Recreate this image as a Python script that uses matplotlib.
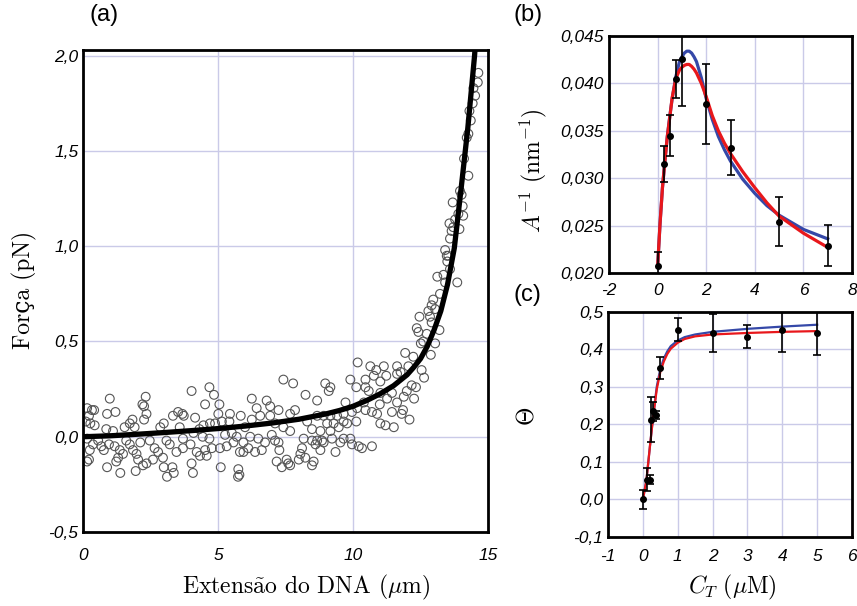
import matplotlib
matplotlib.use('Agg')
import matplotlib.pyplot as plt
from matplotlib.ticker import FuncFormatter

# (a) force vs extension, measured points
ext_um = [
    0.99, 2.32, 2.20, 2.26, 1.20, 0.89, 0.33, 0.15, 0.41, 0.22, 0.10, 0.27, 0.43, 1.83, 1.73,
    2.26, 2.35, 3.33, 3.52, 3.68, 3.73, 2.99, 2.86, 3.58, 1.54, 1.91, 0.86, 1.11, 0.15, 0.56,
    0.37, 0.68, 0.77, 0.96, 1.17, 1.36, 1.48, 1.30, 1.23, 1.98, 2.04, 1.85, 2.12, 2.47, 2.65,
    2.78, 2.96, 2.59, 2.35, 2.22, 2.99, 3.31, 3.36, 1.95, 1.38, 0.89, 0.22, 3.21, 3.46, 3.70,
    3.98, 3.70, 3.09, 1.60, 1.73, 0.25, 3.11, 4.07, 5.74, 0.15,
    4.68, 4.02, 4.85, 4.52, 5.05, 4.15, 5.01, 5.44, 5.84, 6.25, 6.43, 6.80, 6.93, 7.24, 7.67,
    7.85, 6.56, 6.93, 6.25, 5.42, 5.14, 4.89, 4.70, 4.46, 4.31, 6.00, 7.11, 7.42, 7.67, 4.09,
    4.43, 4.68, 5.26, 5.51, 5.69, 6.19, 6.49, 6.99, 7.11, 6.74, 5.94, 5.57, 5.32, 5.07, 4.77,
    4.52, 4.21, 4.33, 4.58, 5.81, 5.94, 6.12, 6.37, 6.62, 7.24, 7.27, 7.54, 7.60, 7.17, 7.36,
    7.67, 5.10, 5.75, 5.79, 4.02, 7.42, 7.78,
    10.17, 10.64, 10.86, 11.14, 11.63, 10.77, 11.23, 11.63, 10.46, 11.01, 9.90, 10.12, 10.46,
    10.58, 11.01, 8.97, 9.16, 9.10, 8.24, 8.67, 9.72, 10.40, 10.99, 11.26, 11.63, 11.88, 11.44,
    10.15, 10.46, 10.70, 10.89, 11.44, 11.85, 9.96, 9.65, 9.41, 9.16, 8.91, 8.67, 8.30, 9.04,
    9.28, 9.65, 9.78, 10.12, 11.01, 11.20, 11.51, 8.48, 8.79, 9.16, 9.47, 8.48, 8.67, 8.85,
    8.17, 9.22, 9.65, 9.90, 8.61, 8.79, 8.11, 8.05, 8.23, 8.54, 8.48, 9.35, 9.96, 10.21, 10.33,
    10.70, 8.91, 9.53, 7.99,
    13.12, 13.35, 13.41, 13.59, 13.86, 13.49, 13.53, 12.97, 12.91, 13.22, 12.79, 12.46, 12.85,
    13.04, 13.20, 12.36, 12.42, 12.73, 12.91, 12.51, 12.60, 13.04, 12.88, 11.93, 12.23, 12.05,
    12.54, 12.63, 11.76, 12.17, 12.33, 11.99, 12.26, 11.80, 12.09,
    14.64, 14.62, 14.46, 14.52, 14.43, 14.31, 14.36, 14.27, 14.21, 14.11, 14.27, 13.96, 14.02,
    13.69, 14.06, 13.90, 13.78, 14.08, 13.57, 13.71, 13.65, 13.94, 13.59, 13.41, 13.47,
]
force_pn = [
    0.20, 0.21, 0.17, 0.16, 0.13, 0.12, 0.14, 0.15, 0.14, 0.11, 0.08, 0.07, 0.06, 0.09, 0.07,
    0.09, 0.12, 0.11, 0.13, 0.12, 0.11, 0.07, 0.05, 0.05, 0.05, 0.05, 0.04, 0.03, -0.01, -0.02,
    -0.04, -0.05, -0.07, -0.04, -0.05, -0.07, -0.09, -0.11, -0.13, -0.09, -0.12, -0.07, -0.03, -0.02, -0.06,
    -0.08, -0.11, -0.12, -0.14, -0.15, -0.16, -0.16, -0.19, -0.18, -0.19, -0.16, -0.12, -0.04, -0.08, -0.06,
    -0.04, -0.01, -0.02, -0.02, -0.04, -0.07, -0.21, -0.19, -0.21, -0.13,
    0.26, 0.24, 0.22, 0.17, 0.17, 0.10, 0.12, 0.12, 0.11, 0.20, 0.15, 0.19, 0.16, 0.14, 0.12,
    0.14, 0.11, 0.11, 0.09, 0.08, 0.08, 0.07, 0.07, 0.06, 0.04, 0.05, 0.07, 0.05, 0.03, 0.02,
    0.00, -0.01, 0.01, 0.02, 0.00, 0.00, -0.01, 0.01, -0.02, -0.03, -0.03, -0.03, -0.05, -0.06, -0.06,
    -0.07, -0.08, -0.10, -0.10, -0.08, -0.08, -0.06, -0.08, -0.07, -0.03, -0.07, -0.12, -0.14, -0.13, -0.16,
    -0.15, -0.16, -0.17, -0.20, -0.14, 0.30, 0.28,
    0.39, 0.37, 0.35, 0.37, 0.37, 0.32, 0.32, 0.33, 0.30, 0.29, 0.30, 0.26, 0.26,
    0.24, 0.23, 0.28, 0.26, 0.24, 0.22, 0.19, 0.18, 0.18, 0.17, 0.20, 0.18, 0.21, 0.23,
    0.15, 0.14, 0.13, 0.12, 0.13, 0.14, 0.13, 0.12, 0.11, 0.11, 0.11, 0.11, 0.08, 0.07,
    0.07, 0.08, 0.07, 0.08, 0.07, 0.06, 0.05, 0.04, 0.03, 0.03, 0.05, -0.02, -0.02, -0.02,
    -0.01, -0.01, -0.01, -0.01, -0.04, -0.07, -0.06, -0.09, -0.11, -0.13, -0.15, -0.08, -0.04, -0.05, -0.06,
    -0.05, -0.03, -0.03, -0.12,
    0.84, 0.85, 0.81, 0.88, 0.81, 0.92, 0.95, 0.72, 0.69, 0.75, 0.66, 0.63, 0.63,
    0.67, 0.56, 0.57, 0.55, 0.54, 0.60, 0.49, 0.50, 0.49, 0.43, 0.44, 0.42, 0.37,
    0.35, 0.31, 0.34, 0.27, 0.26, 0.24, 0.20, 0.12, 0.09,
    1.91, 1.86, 1.83, 1.79, 1.75, 1.71, 1.66, 1.59, 1.57, 1.46, 1.37, 1.29, 1.27,
    1.23, 1.21, 1.17, 1.14, 1.16, 1.12, 1.10, 1.08, 1.09, 1.04, 0.98, 0.95,
]
fit_ext = [0, 1, 2, 3, 4, 5, 6, 7, 8, 9, 9.5, 10, 10.5, 11, 11.5, 12, 12.25, 12.5,
           12.75, 13.0, 13.25, 13.5, 13.75, 14.0, 14.25, 14.5, 14.6]
fit_force = [0.0, 0.005, 0.013, 0.022, 0.032, 0.043, 0.056, 0.072, 0.092, 0.12, 0.138,
             0.16, 0.19, 0.225, 0.268, 0.325, 0.365, 0.41, 0.475, 0.56, 0.66, 0.80, 0.99,
             1.30, 1.62, 2.0, 2.2]

# (b) inverse persistence length vs concentration
ct_b = [0, 0.25, 0.5, 0.75, 1.0, 2.0, 3.0, 5.0, 7.0]
inv_a = [0.0207, 0.0315, 0.0345, 0.0405, 0.0426, 0.0378, 0.0332, 0.0254, 0.0229]
inv_a_err = [0.0015, 0.0019, 0.0022, 0.0020, 0.0050, 0.0042, 0.0029, 0.0026, 0.0022]
curve_b_x = [0, 0.1, 0.2, 0.3, 0.4, 0.5, 0.6, 0.75, 0.9, 1.0, 1.1, 1.2, 1.3, 1.4, 1.5,
             1.6, 1.8, 2.0, 2.25, 2.5, 2.75, 3.0, 3.5, 4.0, 4.5, 5.0, 6.0, 7.0]
curve_b_blue = [0.0206, 0.0252, 0.0290, 0.0318, 0.0344, 0.0365, 0.0384, 0.0407, 0.0423,
                0.0428, 0.0432, 0.0434, 0.0434, 0.0432, 0.0428, 0.0423, 0.0406, 0.0384,
                0.0362, 0.0344, 0.0330, 0.0318, 0.0299, 0.0284, 0.0271, 0.0261, 0.0246,
                0.0236]
curve_b_red = [0.0206, 0.0252, 0.0290, 0.0318, 0.0344, 0.0364, 0.0385, 0.0405, 0.0414,
               0.0417, 0.0419, 0.0420, 0.0420, 0.0418, 0.0415, 0.0411, 0.0400, 0.0386,
               0.0366, 0.0350, 0.0337, 0.0326, 0.0307, 0.0290, 0.0274, 0.0260, 0.0242,
               0.0227]

# (c) fractional coverage vs concentration
ct_c = [0, 0.13, 0.19, 0.22, 0.28, 0.38, 0.48, 1.0, 2.0, 3.0, 4.0, 5.0]
theta = [0.0, 0.053, 0.053, 0.213, 0.235, 0.225, 0.351, 0.453, 0.444, 0.434, 0.453, 0.444]
theta_err = [0.025, 0.03, 0.012, 0.06, 0.025, 0.011, 0.03, 0.03, 0.05, 0.03, 0.06, 0.06]
curve_c_x = [0, 0.1, 0.2, 0.3, 0.4, 0.5, 0.6, 0.7, 0.8, 1.0, 1.2, 1.5, 2.0, 3.0, 4.0, 5.0]
curve_c_blue = [0.0, 0.05, 0.14, 0.227, 0.302, 0.348, 0.376, 0.395, 0.409, 0.424, 0.433,
                0.440, 0.447, 0.455, 0.461, 0.466]
curve_c_red = [0.0, 0.05, 0.14, 0.225, 0.295, 0.340, 0.368, 0.388, 0.402, 0.418, 0.428,
               0.435, 0.440, 0.444, 0.447, 0.449]

BLUE = '#3548a8'
RED = '#e8171b'
GRID = '#cacae8'
SERIF = ['cmr10', 'DejaVu Serif']


def comma_fmt(decimals):
    return FuncFormatter(lambda v, _: f'{v:.{decimals}f}'.replace('.', ','))


def style_axes(ax, xpad, ypad):
    for s in ax.spines.values():
        s.set_linewidth(2)
    ax.grid(True, color=GRID, lw=1)
    ax.set_axisbelow(True)
    ax.tick_params(length=0, labelsize=12.5)
    ax.tick_params(axis='x', pad=xpad)
    ax.tick_params(axis='y', pad=ypad)


def main():
    plt.rcParams['font.family'] = 'Liberation Sans'
    plt.rcParams['font.style'] = 'italic'
    plt.rcParams['mathtext.fontset'] = 'cm'
    plt.rcParams['axes.unicode_minus'] = False

    fig = plt.figure(figsize=(8.57, 6.06), dpi=100)

    # (a)
    ax = fig.add_axes([0.0969, 0.1221, 0.4726, 0.7954])
    ax.scatter(ext_um, force_pn, s=40, facecolors='none', edgecolors='#555555',
               linewidths=0.8, zorder=2)
    ax.plot(fit_ext, fit_force, color='k', lw=3.8, zorder=3)
    ax.set_xlim(0, 15)
    ax.set_ylim(-0.5, 2.03)
    ax.set_xticks([0, 5, 10, 15])
    ax.set_yticks([-0.5, 0, 0.5, 1.0, 1.5, 2.0])
    ax.yaxis.set_major_formatter(comma_fmt(1))
    style_axes(ax, 11.5, 3.5)

    # (b)
    axb = fig.add_axes([0.7106, 0.5495, 0.2836, 0.3911])
    axb.plot(curve_b_x, curve_b_blue, color=BLUE, lw=2.3, zorder=3)
    axb.plot(curve_b_x, curve_b_red, color=RED, lw=2.3, zorder=3)
    axb.errorbar(ct_b, inv_a, yerr=inv_a_err, fmt='o', color='k', ms=4,
                 capsize=3, elinewidth=1.2, capthick=1.2, zorder=4)
    axb.set_xlim(-2, 8)
    axb.set_ylim(0.020, 0.045)
    axb.set_xticks([-2, 0, 2, 4, 6, 8])
    axb.set_yticks([0.020, 0.025, 0.030, 0.035, 0.040, 0.045])
    axb.yaxis.set_major_formatter(comma_fmt(3))
    style_axes(axb, 7, 3.5)

    # (c)
    axc = fig.add_axes([0.7095, 0.1139, 0.2847, 0.3713])
    axc.plot(curve_c_x, curve_c_blue, color=BLUE, lw=1.6, zorder=3)
    axc.plot(curve_c_x, curve_c_red, color=RED, lw=1.6, zorder=3)
    axc.errorbar(ct_c, theta, yerr=theta_err, fmt='o', color='k', ms=4,
                 capsize=3, elinewidth=1.2, capthick=1.2, zorder=4)
    axc.set_xlim(-1, 6)
    axc.set_ylim(-0.1, 0.5)
    axc.set_xticks(range(-1, 7))
    axc.set_yticks([-0.1, 0, 0.1, 0.2, 0.3, 0.4, 0.5])
    axc.yaxis.set_major_formatter(comma_fmt(1))
    style_axes(axc, 9, 3.5)

    # panel letters
    for x, y, s in [(0.121, 0.975, '(a)'), (0.616, 0.975, '(b)'), (0.615, 0.513, '(c)')]:
        fig.text(x, y, s, fontsize=17, style='normal', ha='center', va='center')

    # axis labels
    fig.text(0.357, 0.031, r'Extens$\mathrm{\tilde{a}}$o do DNA ($\mu$m)', family=SERIF,
             style='normal', fontsize=17, ha='center', va='center')
    fig.text(0.029, 0.521, 'Força (pN)', family=SERIF, style='normal', fontsize=17,
             rotation=90, ha='center', va='center')
    fig.text(0.622, 0.718, r'$A^{-1}\ (\mathrm{nm}^{-1})$', family=SERIF, style='normal',
             fontsize=17, rotation=90, ha='center', va='center')
    fig.text(0.615, 0.312, r'$\Theta$', family=SERIF, style='normal', fontsize=17,
             rotation=90, ha='center', va='center')
    fig.text(0.855, 0.031, r'$C_T\ (\mu\mathrm{M})$', family=SERIF, style='normal',
             fontsize=17, ha='center', va='center')

    fig.savefig('out.png', dpi=100)


if __name__ == '__main__':
    main()
